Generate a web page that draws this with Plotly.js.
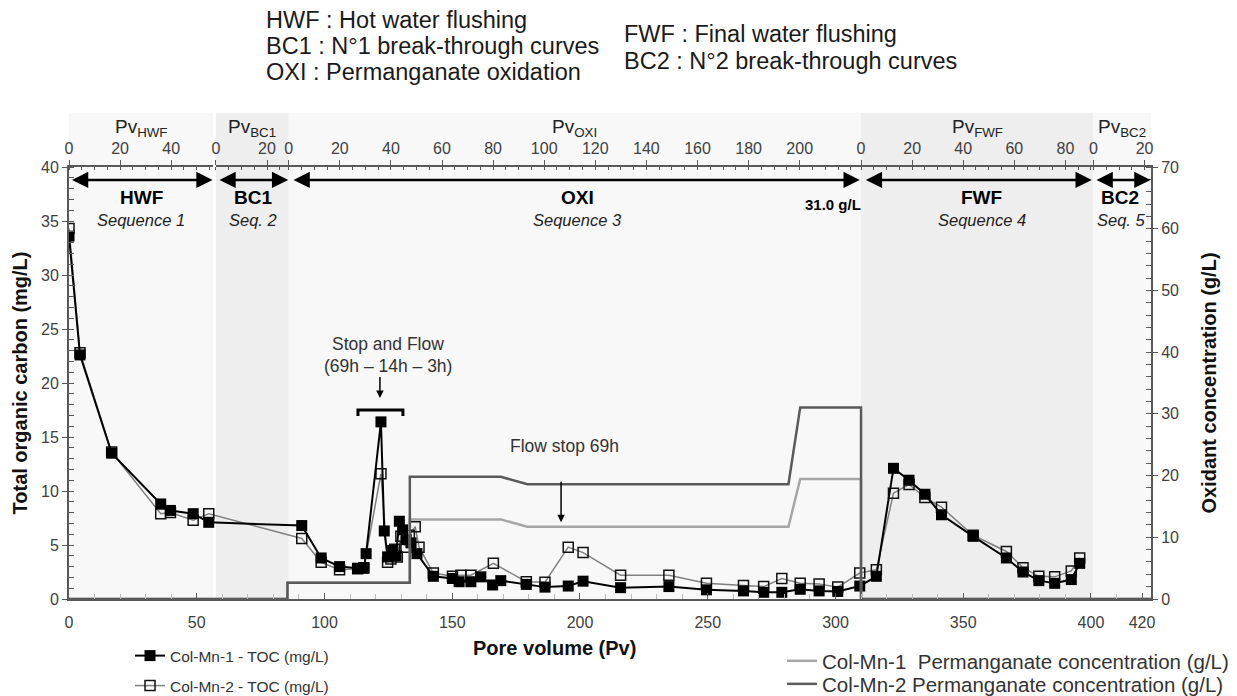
<!DOCTYPE html>
<html>
<head>
<meta charset="utf-8">
<script src="https://cdn.plot.ly/plotly-3.0.1.min.js"></script>
<style>html,body{margin:0;padding:0;background:#fff;}#chart{width:1237px;height:696px;}</style>
</head>
<body>
<div id="chart"></div>
<script>
// ---- Data ----
var pvMn1 = [0, 4.3, 16.7, 35.9, 39.7, 48.6, 54.7, 91.1, 98.7, 105.9, 113, 115.4, 116.3, 122.1, 123.4, 124.7, 126.7, 128, 129.3, 130.6, 132, 133.9, 136.2, 142.6, 150.1, 152.7, 157.3, 161.2, 165.8, 169, 179, 186.3, 195.4, 201.2, 215.9, 234.8, 249.5, 264, 271.9, 279, 286.2, 293.6, 300.9, 309.5, 316, 322.7, 328.8, 335, 341.5, 353.9, 366.9, 373.4, 379.6, 385.8, 392.3, 395.6];
var tocMn1 = [33.6, 22.6, 13.5, 8.8, 8.2, 7.9, 7.1, 6.8, 3.8, 3.0, 2.85, 2.85, 4.2, 16.4, 6.3, 3.9, 4.5, 4.0, 7.2, 6.4, 5.5, 5.2, 4.2, 2.1, 1.9, 1.6, 1.6, 2.05, 1.3, 1.7, 1.35, 1.1, 1.2, 1.65, 1.05, 1.15, 0.85, 0.75, 0.62, 0.62, 0.9, 0.75, 0.7, 1.2, 2.1, 12.1, 11.0, 9.7, 7.8, 5.8, 3.8, 2.5, 1.7, 1.45, 1.8, 3.3];

var pvMn2 = [0, 4.3, 16.7, 35.9, 39.7, 48.6, 54.7, 91.1, 98.7, 105.9, 113, 115.4, 122.1, 124.7, 126, 127.5, 128.5, 129.9, 131.9, 133.2, 135.5, 137, 142.6, 150.1, 153.4, 157.3, 166.1, 179, 186.3, 195.4, 201.2, 215.9, 234.8, 249.5, 264, 271.9, 279, 286.2, 293.6, 300.9, 309.5, 316, 322.7, 328.8, 335, 341.5, 353.9, 366.9, 373.4, 379.6, 385.8, 392.3, 395.6];
var tocMn2 = [34.3, 22.8, 13.6, 7.9, 8.0, 7.3, 7.9, 5.6, 3.4, 2.7, 2.8, 2.9, 11.6, 3.4, 3.7, 4.6, 3.9, 5.8, 4.8, 5.9, 6.7, 4.8, 2.4, 2.1, 2.2, 2.2, 3.3, 1.6, 1.55, 4.8, 4.3, 2.2, 2.2, 1.45, 1.25, 1.15, 1.9, 1.45, 1.4, 1.1, 2.4, 2.7, 9.8, 10.6, 9.4, 8.5, 5.9, 4.4, 2.9, 2.1, 2.05, 2.6, 3.8];

var pvPerm = [0, 85.5, 85.5, 133.4, 133.4, 169, 179.4, 281.6, 286.2, 310, 310, 423.5];
var permMn1 = [0, 0, 2.65, 2.65, 12.9, 12.9, 11.7, 11.7, 19.45, 19.45, 0, 0];
var permMn2 = [0, 0, 2.65, 2.65, 19.8, 19.8, 18.6, 18.6, 31.05, 31.05, 0, 0];

var xTickVals = [0, 50, 100, 150, 200, 250, 300, 350, 400, 420];
var topTickVals = [[0, 20, 40], [0, 20], [0, 20, 40, 60, 80, 100, 120, 140, 160, 180, 200], [0, 20, 40, 60, 80], [0, 20]];
var seqNames = ['HWF', 'BC1', 'OXI', 'FWF', 'BC2'];
var seqLabels = ['Sequence 1', 'Seq. 2', 'Sequence 3', 'Sequence 4', 'Seq. 5'];
var seqStart = [0, 57.5, 86, 310, 401];      // Pv (global) where each sequence starts
var seqEnd = [56.4, 86, 310, 401, 423.5];    // Pv (global) where each sequence ends
var seqShade = ['#f8f8f8', '#eeeeee', '#f8f8f8', '#eeeeee', '#f8f8f8'];
var headerLeft = ['HWF : Hot water flushing', 'BC1 : N°1 break-through curves', 'OXI : Permanganate oxidation'];
var headerRight = ['FWF : Final water flushing', 'BC2 : N°2 break-through curves'];

// ---- Layout helpers ----
var FONT = 'Liberation Sans, Arial, sans-serif';
var AX = '#595959';
var xMax = 423.5;
function dom(v) { return v / xMax; }

var traces = [
  {x: pvPerm, y: permMn1, xaxis: 'x', yaxis: 'y2', mode: 'lines', name: 'Col-Mn-1  Permanganate concentration (g/L)',
   line: {color: '#a6a6a6', width: 2.5}, legend: 'legend3', hoverinfo: 'skip'},
  {x: pvPerm, y: permMn2, xaxis: 'x', yaxis: 'y2', mode: 'lines', name: 'Col-Mn-2 Permanganate concentration (g/L)',
   line: {color: '#5a5a5a', width: 2.5}, legend: 'legend4', hoverinfo: 'skip'},
  {x: pvMn2, y: tocMn2, xaxis: 'x', yaxis: 'y', mode: 'lines+markers', name: 'Col-Mn-2 - TOC (mg/L)',
   line: {color: '#808080', width: 1.5},
   marker: {symbol: 'square-open', size: 10, color: '#111', line: {width: 1.5, color: '#111'}}, legend: 'legend2'},
  {x: pvMn1, y: tocMn1, xaxis: 'x', yaxis: 'y', mode: 'lines+markers', name: 'Col-Mn-1 - TOC (mg/L)',
   line: {color: '#000', width: 2},
   marker: {symbol: 'square', size: 11, color: '#000'}, legend: 'legend'}
];

var layout = {
  width: 1237, height: 696,
  margin: {l: 69, r: 86, t: 167, b: 97, autoexpand: false},
  paper_bgcolor: '#ffffff', plot_bgcolor: 'rgba(0,0,0,0)',
  font: {family: FONT, color: '#404040', size: 16},
  xaxis: {range: [0, xMax], tickvals: xTickVals, showline: true, linecolor: AX, linewidth: 2,
          ticks: 'inside', ticklen: 6, tickcolor: AX, tickwidth: 1, showgrid: false, zeroline: false,
          ticklabelstandoff: 8, tickfont: {size: 16, color: '#404040'},
          minor: {dtick: 10, tick0: 0, ticks: 'inside', ticklen: 5, tickcolor: '#bbbbbb'}},
  yaxis: {range: [0, 40], dtick: 5, showline: true, linecolor: AX, linewidth: 2, ticks: 'outside', ticklen: 5,
          tickcolor: AX, showgrid: false, zeroline: false, tickfont: {size: 16, color: '#404040'},
          minor: {dtick: 1, ticks: 'inside', ticklen: 5, tickcolor: AX},
          title: {text: 'Total organic carbon (mg/L)', font: {size: 20, color: '#111', family: FONT, weight: 'bold'}, standoff: 8}},
  yaxis2: {range: [0, 70], dtick: 10, overlaying: 'y', side: 'right', anchor: 'x', showline: true, linecolor: AX, linewidth: 2,
           ticks: 'outside', ticklen: 5, tickcolor: AX, showgrid: false, zeroline: false, tickfont: {size: 16, color: '#404040'},
           minor: {dtick: 2, ticks: 'inside', ticklen: 5, tickcolor: AX},
           title: {text: 'Oxidant concentration (g/L)', font: {size: 20, color: '#111', family: FONT, weight: 'bold'}, standoff: 24}},
  shapes: [], annotations: [],
  showlegend: true
};

// Top segmented axes (one per sequence), each with its own local Pv scale
var topTitles = ['Pv<sub>HWF</sub>', 'Pv<sub>BC1</sub>', 'Pv<sub>OXI</sub>', 'Pv<sub>FWF</sub>', 'Pv<sub>BC2</sub>'];
for (var i = 0; i < 5; i++) {
  var id = 'xaxis' + (i + 2);
  var span = seqEnd[i] - seqStart[i];
  layout[id] = {domain: [dom(seqStart[i]), dom(seqEnd[i])], range: [0, span], anchor: 'y', side: 'top',
    tickvals: topTickVals[i], showline: true, linecolor: AX, linewidth: 2, ticks: 'outside', ticklen: 5, tickcolor: AX,
    showgrid: false, zeroline: false, tickfont: {size: 16, color: '#404040'},
    minor: {dtick: 5, tick0: 0, ticks: 'inside', ticklen: 3, tickcolor: AX}};
  traces.push({x: [], y: [], xaxis: 'x' + (i + 2), yaxis: 'y', mode: 'lines', showlegend: false, hoverinfo: 'skip'});
  // background shading
  layout.shapes.push({type: 'rect', xref: 'x', yref: 'paper', x0: seqStart[i], x1: seqEnd[i], y0: 0, y1: 1.125,
    fillcolor: seqShade[i], line: {width: 0}, layer: 'below'});
  // Pv subtitle
  layout.annotations.push({xref: 'x', yref: 'paper', x: (seqStart[i] + seqEnd[i]) / 2, y: 1.09,
    text: topTitles[i], showarrow: false, font: {size: 19, color: '#222'}, yanchor: 'middle'});
}

// Sequence double arrows and labels
var arrowFrom = [0.6, 58.3, 87.3, 311.3, 401.6];
var arrowTo = [56.2, 85.8, 309.5, 400.3, 423.3];
var labelX = [28.2, 72.0, 199.2, 357.3, 411.4];
for (var j = 0; j < 5; j++) {
  layout.annotations.push({xref: 'x', yref: 'y', axref: 'x', ayref: 'y', x: arrowTo[j], y: 38.8, ax: arrowFrom[j], ay: 38.8,
    text: '', showarrow: true, arrowhead: 2, startarrowhead: 2, arrowside: 'end+start', arrowsize: 1.3, startarrowsize: 1.3,
    arrowwidth: 2.5, arrowcolor: '#000', standoff: 0, startstandoff: 0});
  layout.annotations.push({xref: 'x', yref: 'y', x: labelX[j], y: 37.2, text: '<b>' + seqNames[j] + '</b>', showarrow: false,
    font: {size: 19, color: '#000'}});
  layout.annotations.push({xref: 'x', yref: 'y', x: labelX[j] + (j === 4 ? 0.7 : 0), y: 35.1, text: '<i>' + seqLabels[j] + '</i>', showarrow: false,
    font: {size: 16.5, color: '#222'}});
}
layout.annotations.push({xref: 'x', yref: 'y', x: 299, y: 36.5, text: '<b>31.0 g/L</b>', showarrow: false,
  font: {size: 15, color: '#000'}});

// Event annotations
layout.annotations.push({xref: 'x', yref: 'y', x: 124.9, y: 23.6, text: 'Stop and Flow', showarrow: false, font: {size: 17.5, color: '#333'}});
layout.annotations.push({xref: 'x', yref: 'y', x: 124.9, y: 21.6, text: '(69h – 14h – 3h)', showarrow: false, font: {size: 17.5, color: '#333'}});
layout.annotations.push({xref: 'x', yref: 'y', axref: 'x', ayref: 'y', x: 121.7, y: 18.6, ax: 121.7, ay: 20.7, text: '',
  showarrow: true, arrowhead: 2, arrowsize: 1, arrowwidth: 1.5, arrowcolor: '#000', standoff: 0});
layout.shapes.push({type: 'path', xref: 'x', yref: 'y', path: 'M113.1,16.95 L113.1,17.5 L130.7,17.5 L130.7,16.95',
  line: {color: '#000', width: 3}});
layout.annotations.push({xref: 'x', yref: 'y', x: 194.1, y: 14.2, text: 'Flow stop 69h', showarrow: false, font: {size: 17.5, color: '#333'}});
layout.annotations.push({xref: 'x', yref: 'y', axref: 'x', ayref: 'y', x: 192.6, y: 7.1, ax: 192.6, ay: 11.0, text: '',
  showarrow: true, arrowhead: 2, arrowsize: 1, arrowwidth: 1.5, arrowcolor: '#000', standoff: 0});

// Header block
var hlY = [1.340, 1.280, 1.220];
for (var k = 0; k < headerLeft.length; k++) {
  layout.annotations.push({xref: 'paper', yref: 'paper', x: 0.1802, y: hlY[k], xanchor: 'left', yanchor: 'middle',
    text: headerLeft[k], showarrow: false, font: {size: 23.5, color: '#1a1a1a'}});
}
var hrY = [1.308, 1.245];
for (var m = 0; m < headerRight.length; m++) {
  layout.annotations.push({xref: 'paper', yref: 'paper', x: 0.511, y: hrY[m], xanchor: 'left', yanchor: 'middle',
    text: headerRight[m], showarrow: false, font: {size: 23.5, color: '#1a1a1a'}});
}

// Bottom axis title (positioned as in the reference)
layout.annotations.push({xref: 'paper', yref: 'paper', x: 0.449, y: -0.113, yanchor: 'middle', text: '<b>Pore volume (Pv)</b>',
  showarrow: false, font: {size: 20, color: '#111'}});

// Legends
function leg(x, y, size) {
  return {x: x, y: y, xanchor: 'left', yanchor: 'middle', bgcolor: 'rgba(0,0,0,0)', borderwidth: 0,
    font: {size: size, color: '#333', family: FONT}, itemwidth: 30};
}
layout.legend = leg(0.0564, -0.132, 15.5);
layout.legend2 = leg(0.0564, -0.2014, 15.5);
layout.legend3 = leg(0.659, -0.1435, 20.5);
layout.legend4 = leg(0.659, -0.1968, 20.5);

Plotly.newPlot('chart', traces, layout, {displayModeBar: false, staticPlot: true});
</script>
</body>
</html>
